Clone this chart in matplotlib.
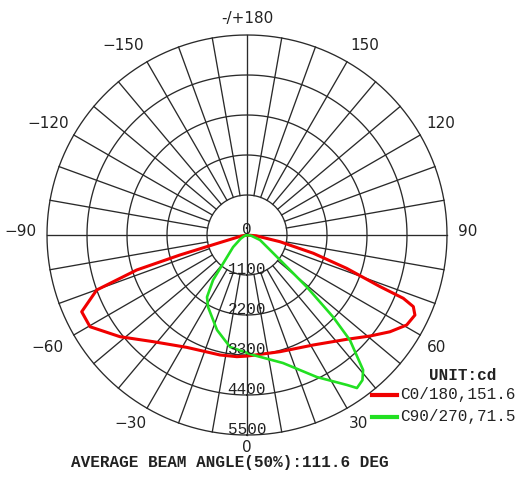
import numpy as np
import matplotlib
matplotlib.use("Agg")
import matplotlib.pyplot as plt

# ---- data ----
red_angles = [-90, -80, -74.5, -73.4, -72.4, -69.9, -65.1, -59.7, -51.3, -41.3, -28.2, -12.7, -4.8,
              0, 15.8, 31.1, 43.7, 50.6, 55.9, 60.6, 64.5, 66.7, 67.95, 68.8, 71.5, 74.6, 78.5,
              85, 90]
red_values = [0, 150, 700, 1923, 3182, 4401, 5012, 5000, 4474, 3905, 3506, 3382, 3358,
              3330, 3335, 3532, 3968, 4377, 4747, 5041, 5116, 4980, 4637, 3924, 2890, 1892, 926,
              250, 0]

green_angles = [-90, -70, -60, -49, -37, -32.8, -28.4, -17.5, -8.6, 2.9, 15.7, 26.2, 33.7,
                35.7, 38.5, 40.7, 44.4, 46.4, 49, 52.9, 57, 69, 80, 90]
green_values = [0, 80, 200, 507, 1551, 2030, 2252, 2740, 3115, 3304, 3657, 4354, 4958,
                5182, 5100, 4895, 4045, 3268, 2183, 1138, 755, 383, 120, 0]

ring_values = [1100, 2200, 3300, 4400, 5500]
ring_labels = ["1100", "2200", "3300", "4400", "5500"]
angle_labels = ["0", "30", "60", "90", "120", "150", "-/+180", "\u2212150", "\u2212120",
                "\u221290", "\u221260", "\u221230"]
legend_labels = ["C0/180,151.6", "C90/270,71.5"]
unit_text = "UNIT:cd"
beam_text = "AVERAGE BEAM ANGLE(50%):111.6 DEG"

W, H = 521, 479
fig = plt.figure(figsize=(W / 100, H / 100), dpi=100)

cx, cy, R = 247, 235, 200
ax = fig.add_axes([(cx - R) / W, (H - cy - R) / H, 2 * R / W, 2 * R / H], projection="polar")
ax.set_theta_zero_location("S")
ax.set_theta_direction(1)
ax.set_ylim(0, 5500)
ax.grid(False)
ax.set_xticks([])
ax.set_yticks([])
ax.spines["polar"].set_visible(False)

gcol = "#2a2a2a"
glw = 0.95
th = np.linspace(0, 2 * np.pi, 721)
for r in ring_values:
    ax.plot(th, np.full_like(th, r), color=gcol, lw=glw, clip_on=False, zorder=1)
for a in range(0, 360, 10):
    r0 = 0 if a % 90 == 0 else ring_values[0]
    ax.plot([np.radians(a)] * 2, [r0, ring_values[-1]], color=gcol, lw=glw, clip_on=False, zorder=1)

ax.plot(np.radians(red_angles), red_values, color="#f00000", lw=2.2, zorder=3, clip_on=False,
        solid_joinstyle="round")
ax.plot(np.radians(green_angles), green_values, color="#22e022", lw=1.9, zorder=3, clip_on=False,
        solid_joinstyle="round")


def px(x, y):
    return x / W, 1 - y / H


tcol = "#222222"
sans = dict(family="DejaVu Sans", fontsize=11, color=tcol, ha="center", va="center")
mono = dict(family="Liberation Mono", fontsize=11.5, color=tcol, ha="center", va="center")

# angle labels (pixel positions)
angle_pos = [(247, 447), (358, 424), (437, 347), (468, 232), (441, 123), (365, 46),
             (247, 19), (123, 46), (48, 123), (20, 232), (47, 348), (130, 423)]
for lab, (x, y) in zip(angle_labels, angle_pos):
    fig.text(*px(x, y), lab, **sans)

# radial value labels
fig.text(*px(cx, 230), "0", **mono)
for v, lab in zip(ring_values, ring_labels):
    ypix = cy + v / 5500 * R - 6
    fig.text(*px(cx, ypix), lab, **mono)

# unit and legend
fig.text(*px(463, 375), unit_text, family="Liberation Mono", fontsize=11.5, fontweight="bold",
         color=tcol, ha="center", va="center")
leg_y = [395, 417]
leg_c = ["#f00000", "#22e022"]
for lab, y, c in zip(legend_labels, leg_y, leg_c):
    fig.add_artist(plt.Line2D([372 / W, 397 / W], [1 - y / H] * 2, color=c, lw=3))
    fig.text(*px(400, y), lab, family="Liberation Mono", fontsize=11.5, color=tcol,
             ha="left", va="center")

fig.text(*px(230, 463), beam_text, family="Liberation Mono", fontsize=11.5, fontweight="bold",
         color=tcol, ha="center", va="center")

fig.savefig("out.png", dpi=100)
